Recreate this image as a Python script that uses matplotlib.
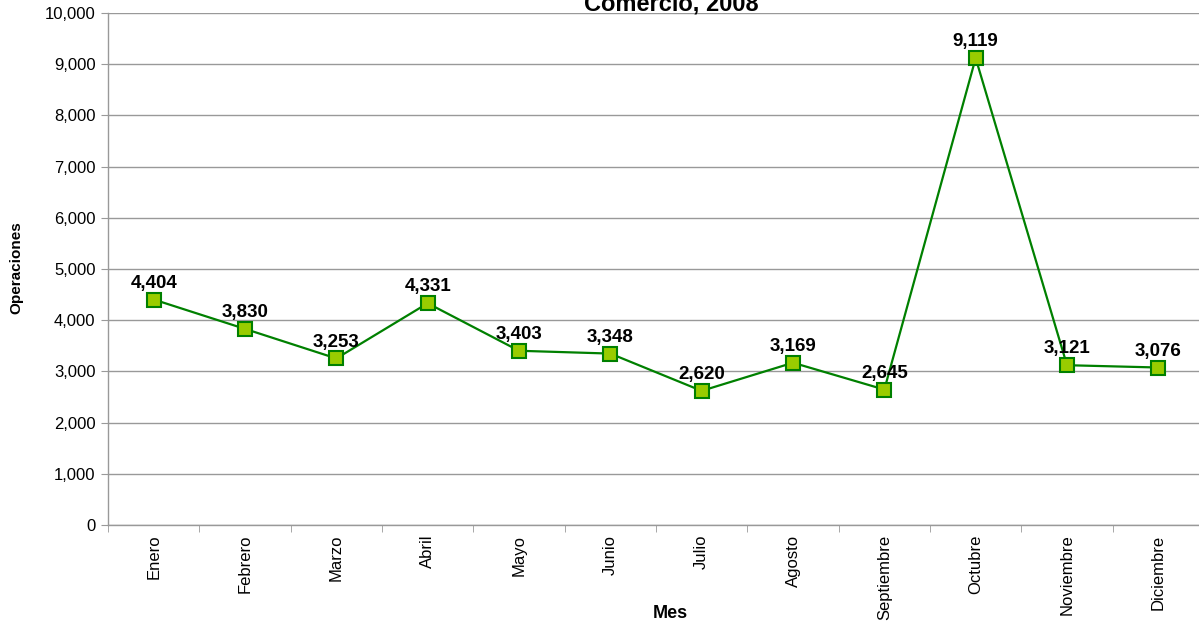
import matplotlib.pyplot as plt
from matplotlib.ticker import FuncFormatter, MultipleLocator

plt.rcParams['font.family'] = ['Liberation Sans', 'DejaVu Sans']

meses = ['Enero', 'Febrero', 'Marzo', 'Abril', 'Mayo', 'Junio', 'Julio',
         'Agosto', 'Septiembre', 'Octubre', 'Noviembre', 'Diciembre']
operaciones = [4404, 3830, 3253, 4331, 3403, 3348, 2620, 3169, 2645, 9119, 3121, 3076]

fig = plt.figure(figsize=(11.99, 6.24), dpi=100)
ax = fig.add_axes([108 / 1199, 1 - 525 / 624, 1096 / 1199, 512 / 624])

x = list(range(len(meses)))
ax.plot(x, operaciones, color='#008000', linewidth=1.6, marker='s',
        markersize=9.5, markerfacecolor='#99CC00', markeredgecolor='#008000',
        markeredgewidth=1.5, zorder=3, clip_on=False)

# etiquetas de datos
for xi, val in zip(x, operaciones):
    ax.annotate(f'{val:,}', (xi, val), xytext=(0, 8.5), textcoords='offset points',
                ha='center', va='baseline', fontsize=13.5, fontweight='bold',
                color='black', zorder=4)

ax.set_xlim(-0.5, len(meses) - 0.5)
ax.set_ylim(0, 10000)
ax.yaxis.set_major_locator(MultipleLocator(1000))
ax.yaxis.set_major_formatter(FuncFormatter(lambda v, p: f'{int(v):,}'))
ax.grid(axis='y', color='#999999', linewidth=1)
ax.set_axisbelow(True)

ax.set_xticks(x)
ax.set_xticklabels(meses, rotation=90, fontsize=12)
ax.set_xticks([i - 0.5 for i in range(len(meses) + 1)], minor=True)
ax.tick_params(axis='x', which='major', length=0, pad=7)
ax.tick_params(axis='x', which='minor', length=5, color='#999999')
ax.tick_params(axis='y', length=5, color='#999999', labelsize=12, pad=4)

for s in ['top', 'right']:
    ax.spines[s].set_visible(False)
for s in ['left', 'bottom']:
    ax.spines[s].set_color('#999999')
    ax.spines[s].set_linewidth(1)

fig.text(16 / 1199, 1 - 268 / 624, 'Operaciones', rotation=90, fontsize=11,
         fontweight='bold', ha='center', va='center')
fig.text(670 / 1199, 1 - 614 / 624, 'Mes', fontsize=13, fontweight='bold',
         ha='center', va='center')
fig.text(671 / 1199, 1 - 11 / 624, 'Comercio, 2008', fontsize=17, fontweight='bold',
         ha='center', va='baseline')

fig.savefig('out.png', dpi=100)
